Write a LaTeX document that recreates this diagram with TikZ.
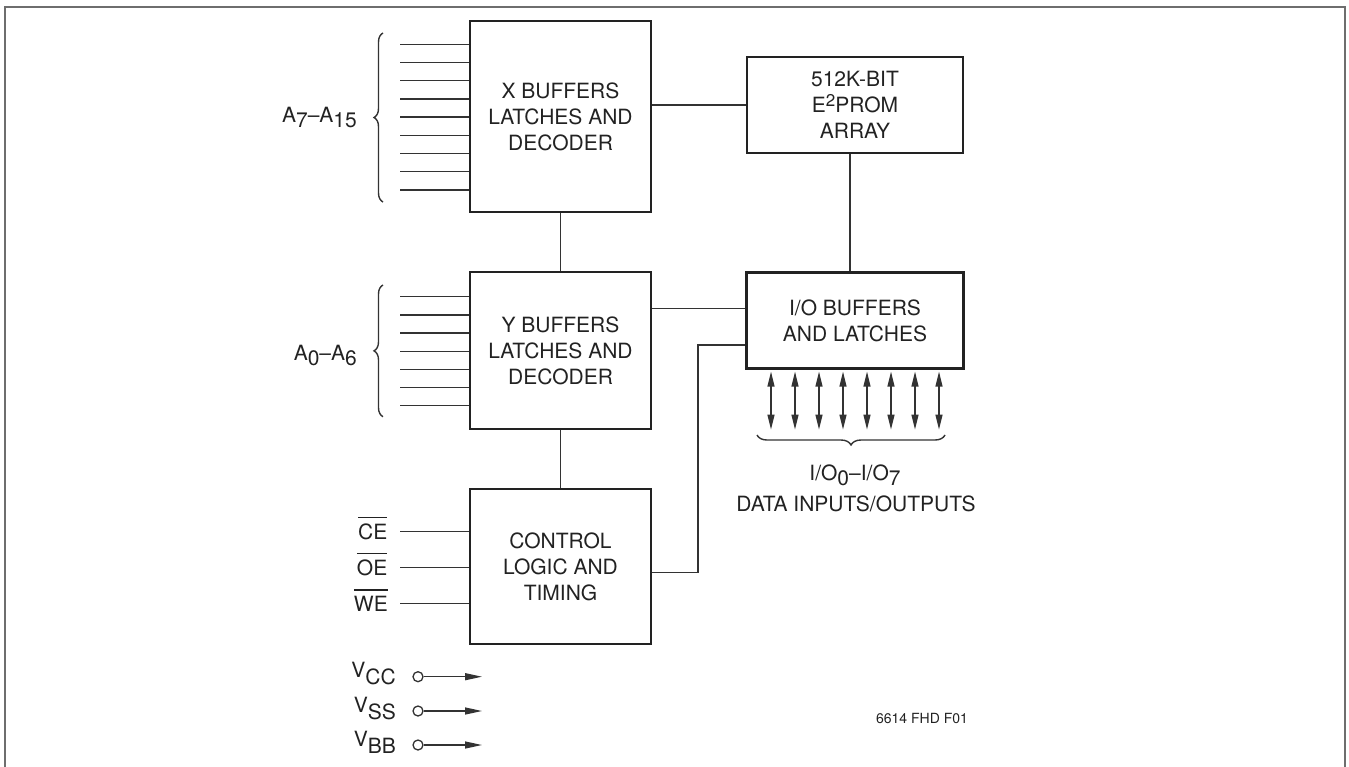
\documentclass[tikz,border=0pt]{standalone}
\usepackage{fontspec}
\setmainfont{TeX Gyre Heros}
\usetikzlibrary{arrows.meta,decorations.pathreplacing}
\definecolor{ink}{HTML}{222222}
\definecolor{wirec}{HTML}{333333}
\definecolor{framec}{HTML}{6E6E6E}
\newcommand\lowr[1]{\raisebox{-5pt}{#1}}
\newcommand\lowv[1]{\raisebox{-7pt}{#1}}
\newcommand\barred[1]{\leavevmode\setbox0\hbox{#1}\rlap{\raisebox{\dimexpr\ht0+5.5pt\relax}{\rule{\wd0}{1.5pt}}}\box0}
\begin{document}
\begin{tikzpicture}[x=1pt,y=-1pt,
  blk/.style={draw=ink, line width=2.6pt, inner sep=0pt, align=center,
    font=\fontsize{21}{26}\selectfont, text=ink},
  wire/.style={draw=wirec, line width=1.4pt},
  lbl/.style={inner sep=0pt, font=\fontsize{21}{26}\selectfont, text=ink},
  dtip/.style={<->, >={Triangle[length=15pt,width=7pt]}},
  ptip/.style={-{Triangle[length=17pt,width=7pt]}},
  brc/.style={wire, decorate, decoration={brace, amplitude=#1}},
  ]
\useasboundingbox (0,0) rectangle (1349,766);
\draw[framec, line width=2pt] (5,780) -- (5,6.5) -- (1345,6.5) -- (1345,780);

% blocks
\node[blk, minimum width=181pt, minimum height=191pt] (X) at (560.5,116.5) {X BUFFERS\\LATCHES AND\\DECODER};
\node[blk, minimum width=216pt, minimum height=96pt] (E2) at (855,105) {512K-BIT\\E\raisebox{6pt}{\fontsize{17}{17}\selectfont 2}PROM\\ARRAY};
\node[blk, minimum width=181pt, minimum height=157pt] (Y) at (560.5,350.5) {Y BUFFERS\\LATCHES AND\\DECODER};
\node[blk, minimum width=216.6pt, minimum height=95.6pt] (IO) at (855,320.5) {I/O BUFFERS\\AND LATCHES};
\node[blk, minimum width=181pt, minimum height=155pt] (CT) at (560.5,566.5) {CONTROL\\LOGIC AND\\TIMING};

% block connections
\draw[wire] (E2.west) -- (E2.west -| X.east);
\draw[wire] ([xshift=-5pt]E2.south) -- ([xshift=-5pt]IO.north);
\draw[wire] (X.south) -- (Y.north);
\draw[wire] (Y.south) -- (CT.north);
\draw[wire] ([yshift=12.2pt]IO.west) -- ([yshift=12.2pt]IO.west -| Y.east);
\draw[wire] ([yshift=-6pt]CT.east) -| ([xshift=-47.4pt,yshift=-24.5pt]IO.west) -- ([yshift=-24.5pt]IO.west);

% X address inputs
\foreach \k [evaluate=\k as \yy using 44.3+18.2*\k] in {0,...,8}{
  \coordinate (xin\k) at (400,\yy);
  \draw[wire] (xin\k) -- (X.west |- xin\k);
}
\draw[brc=9pt] (383,202) -- (383,33);
\node[lbl, anchor=base east] (ax) at (357,122.7) {A\lowr{7}--A\lowr{15}};

% Y address inputs
\foreach \k [evaluate=\k as \yy using 296.7+18.17*\k] in {0,...,6}{
  \coordinate (yin\k) at (400,\yy);
  \draw[wire] (yin\k) -- (Y.west |- yin\k);
}
\draw[brc=9pt] (383,416.7) -- (383,285);
\node[lbl, anchor=base east] (ay) at (357,360) {A\lowr{0}--A\lowr{6}};

% control inputs
\coordinate (cein) at (400,531.3);
\coordinate (oein) at (400,567.3);
\coordinate (wein) at (400,603.3);
\draw[wire] (cein) -- (CT.west |- cein);
\draw[wire] (oein) -- (CT.west |- oein);
\draw[wire] (wein) -- (CT.west |- wein);
\node[lbl, anchor=base east] (ce) at (387.5,539.3) {\barred{CE}};
\node[lbl, anchor=base east] (oe) at (387.5,575.3) {\barred{OE}};
\node[lbl, anchor=base east] (we) at (388,611.3) {\barred{WE}};

% data lines
\foreach \i in {0,...,7}{
  \draw[wire, line width=1.3pt, dtip] ([xshift={-84pt+24pt*\i}, yshift=-2pt]IO.south) -- ++(0,58);
}
\draw[brc=10pt] (945,435) -- (757,435);
\node[lbl, anchor=base] (iol) at (855,480) {I/O\lowr{0}--I/O\lowr{7}};
\node[lbl, anchor=base] (dat) at (856,511.7) {DATA INPUTS/OUTPUTS};

% power pins
\foreach \nm/\sb/\yc in {cc/CC/676.7, ss/SS/711, bb/BB/745}{
  \node[circle, draw=wirec, line width=1.3pt, minimum size=10pt, inner sep=0pt] (p\nm) at (418,\yc) {};
  \coordinate (q\nm) at (482,\yc);
  \draw[wire, line width=1.3pt, ptip] (p\nm.east) -- (q\nm);
  \node[lbl, anchor=base east] (v\nm) at (396,\yc+1) {V\lowv{\sb}};
}

\node[inner sep=0pt, anchor=base, font=\fontsize{14}{16}\selectfont, text=ink] (fig) at (922,723) {6614 FHD F01};
\end{tikzpicture}
\end{document}
